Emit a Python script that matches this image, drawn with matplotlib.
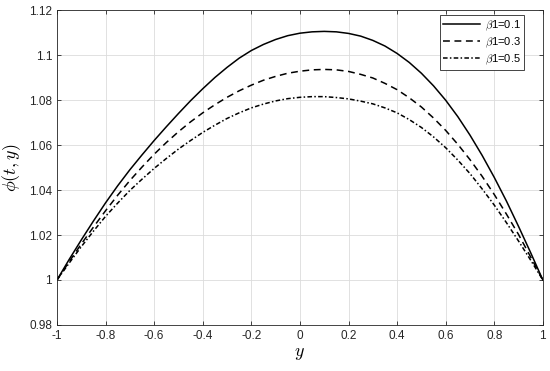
import matplotlib
matplotlib.use('Agg')
import matplotlib.pyplot as plt

plt.rcParams['font.family'] = ['Liberation Sans', 'DejaVu Sans']
plt.rcParams['mathtext.fontset'] = 'cm'

# values, every 0.05 in y
y_vals = [-1.00, -0.95, -0.90, -0.85, -0.80, -0.75, -0.70, -0.65, -0.60, -0.55, -0.50,
          -0.45, -0.40, -0.35, -0.30, -0.25, -0.20, -0.15, -0.10, -0.05, 0.00,
          0.05, 0.10, 0.15, 0.20, 0.25, 0.30, 0.35, 0.40, 0.45, 0.50,
          0.55, 0.60, 0.65, 0.70, 0.75, 0.80, 0.85, 0.90, 0.95, 1.00]
phi_b01 = [1.0000, 1.0091, 1.0178, 1.0262, 1.0343, 1.0419, 1.0490, 1.0556, 1.0620, 1.0681, 1.0740,
           1.0797, 1.0850, 1.0900, 1.0945, 1.0986, 1.1020, 1.1047, 1.1069, 1.1086, 1.1097,
           1.1103, 1.1105, 1.1103, 1.1096, 1.1084, 1.1065, 1.1040, 1.1007, 1.0967, 1.0919,
           1.0863, 1.0799, 1.0726, 1.0644, 1.0554, 1.0456, 1.0351, 1.0238, 1.0121, 1.0000]
phi_b03 = [1.0000, 1.0081, 1.0160, 1.0235, 1.0308, 1.0377, 1.0442, 1.0502, 1.0559, 1.0611, 1.0659,
           1.0703, 1.0743, 1.0779, 1.0812, 1.0841, 1.0866, 1.0888, 1.0905, 1.0919, 1.0928,
           1.0934, 1.0936, 1.0934, 1.0927, 1.0914, 1.0898, 1.0874, 1.0846, 1.0810, 1.0769,
           1.0720, 1.0665, 1.0603, 1.0535, 1.0461, 1.0380, 1.0293, 1.0202, 1.0102, 1.0000]
phi_b05 = [1.0000, 1.0075, 1.0148, 1.0217, 1.0283, 1.0342, 1.0398, 1.0448, 1.0496, 1.0540, 1.0582,
           1.0620, 1.0656, 1.0688, 1.0718, 1.0743, 1.0765, 1.0782, 1.0796, 1.0806, 1.0812,
           1.0815, 1.0815, 1.0811, 1.0805, 1.0795, 1.0783, 1.0765, 1.0743, 1.0713, 1.0678,
           1.0636, 1.0588, 1.0533, 1.0473, 1.0405, 1.0333, 1.0255, 1.0173, 1.0088, 1.0000]
labels = [r'$\beta$1=0.1', r'$\beta$1=0.3', r'$\beta$1=0.5']

x_ticks = [-1, -0.8, -0.6, -0.4, -0.2, 0, 0.2, 0.4, 0.6, 0.8, 1]
x_ticklabels = ['-1', '-0.8', '-0.6', '-0.4', '-0.2', '0', '0.2', '0.4', '0.6', '0.8', '1']
y_ticks = [0.98, 1.0, 1.02, 1.04, 1.06, 1.08, 1.1, 1.12]
y_ticklabels = ['0.98', '1', '1.02', '1.04', '1.06', '1.08', '1.1', '1.12']

fig = plt.figure(figsize=(5.5, 3.71), dpi=100)
ax = fig.add_axes([0.1036, 0.124, 0.8834, 0.849])

ax.plot(y_vals, phi_b01, color='black', lw=1.1, linestyle='-', label=labels[0])
ax.plot(y_vals, phi_b03, color='black', lw=1.1, linestyle=(0, (4.5, 3)), label=labels[1])
ax.plot(y_vals, phi_b05, color='black', lw=1.1, linestyle=(0, (3, 1.5, 1, 1.5)), label=labels[2])

ax.set_xlim(-1, 1)
ax.set_ylim(0.98, 1.12)
ax.set_xticks(x_ticks)
ax.set_xticklabels(x_ticklabels)
ax.set_yticks(y_ticks)
ax.set_yticklabels(y_ticklabels)

ax.grid(True, color='#dcdcdc', lw=0.6)
ax.set_axisbelow(True)
ax.tick_params(direction='in', top=True, right=True, labelsize=8.5, colors='#262626',
               length=3, width=0.6)
for s in ax.spines.values():
    s.set_color('#262626')
    s.set_linewidth(0.6)

ax.set_xlabel(r'$y$', fontsize=13, labelpad=2)
ax.set_ylabel(r'$\phi(t,y)$', fontsize=13, labelpad=4)

leg = ax.legend(loc='upper right', bbox_to_anchor=(0.961, 0.984), fontsize=8,
                fancybox=False, framealpha=1, edgecolor='#262626', handlelength=3.3,
                borderpad=0.3, labelspacing=0.25, borderaxespad=0, handletextpad=0.4)
leg.get_frame().set_linewidth(0.6)

plt.savefig('out.png', dpi=100)
